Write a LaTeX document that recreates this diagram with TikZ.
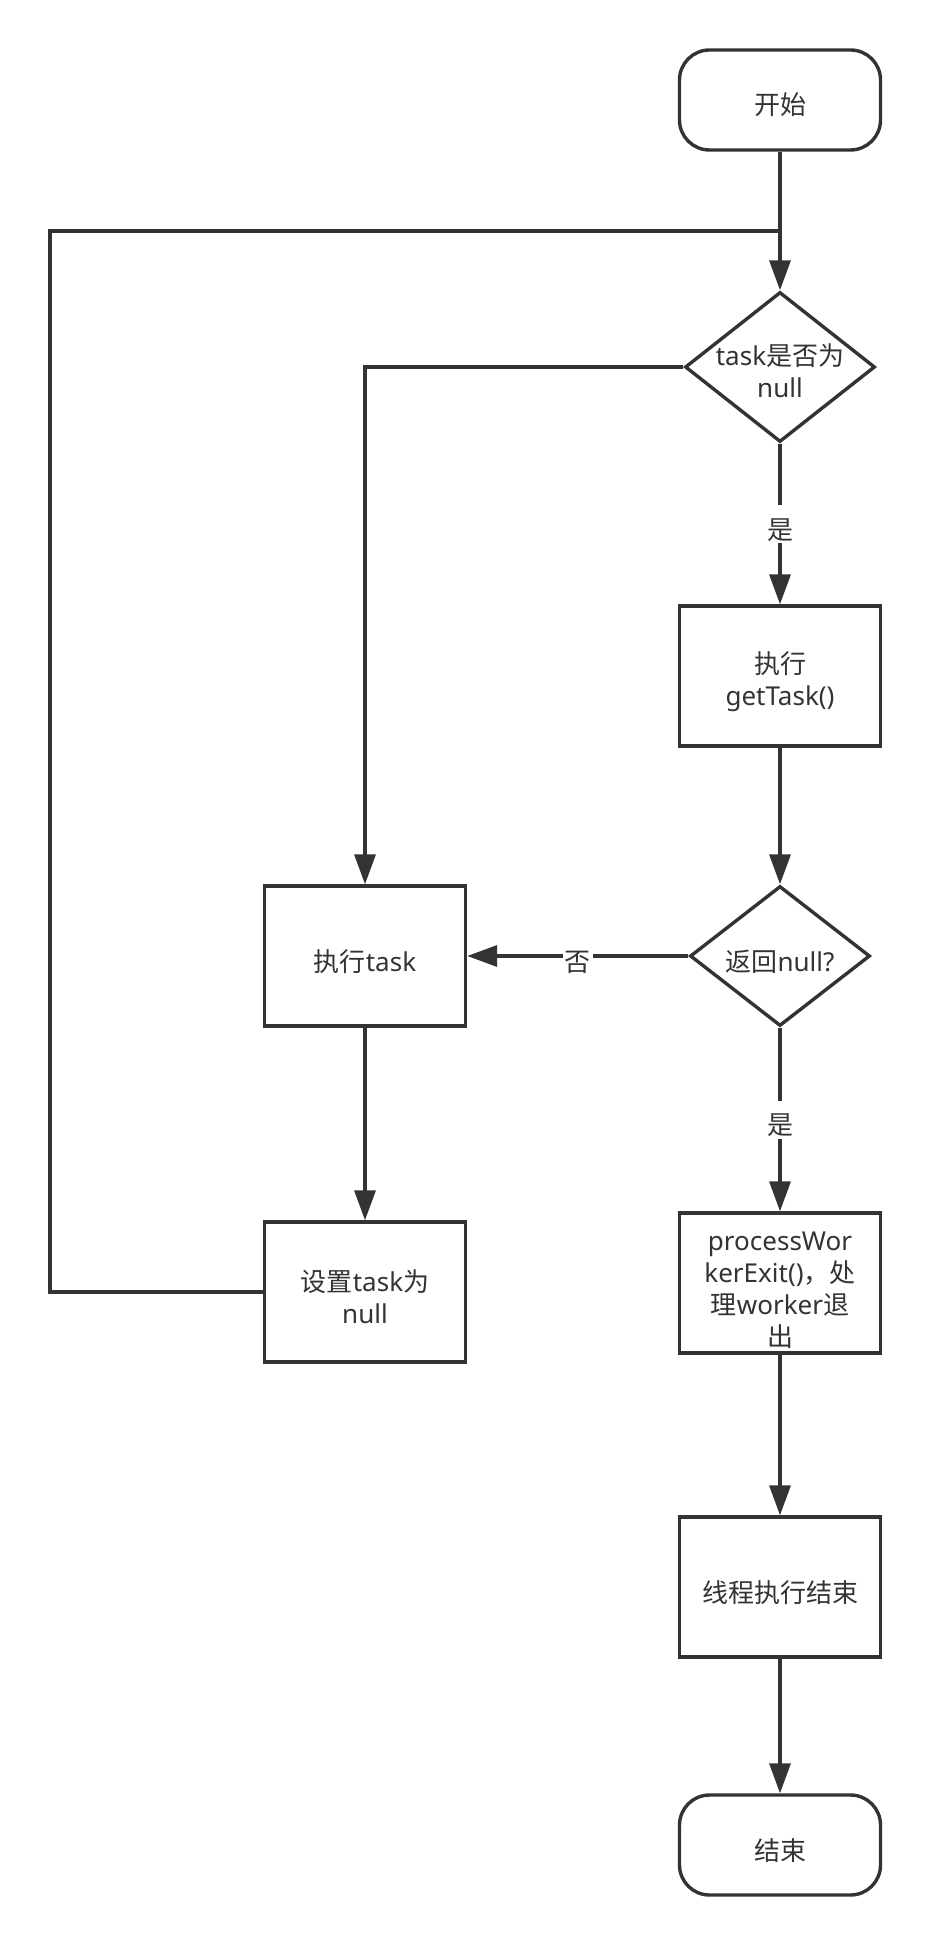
\documentclass[tikz,border=0pt]{standalone}
\usepackage{fontspec}
\setmainfont{Noto Sans}
\newfontfamily\cjk{Noto Sans CJK SC}
\usepackage{tikz}
\usetikzlibrary{arrows.meta,shapes.geometric}
\definecolor{ink}{HTML}{333333}
\newcommand{\textlift}{\rule{0pt}{17pt}}

\begin{document}
\begin{tikzpicture}[x=0.5pt,y=-0.5pt,
	every node/.style={text=ink,font=\fontsize{13pt}{16pt}\selectfont,align=center,inner sep=0pt,
	  execute at begin node={\textlift},execute at end node={\rule[-2pt]{0pt}{2pt}}},
	terminal/.style={draw=ink,line width=1.7pt,rounded corners=15pt,minimum width=100.5pt,minimum height=50pt},
	process/.style={draw=ink,line width=1.7pt,minimum width=100.5pt,minimum height=70pt},
	decision/.style={draw=ink,line width=1.7pt,diamond},
	line/.style={draw=ink,line width=1.7pt},
	flow/.style={line,-{Triangle[length=15pt,width=10.5pt]}},
	tag/.style={fill=white,inner xsep=1pt,inner ysep=0pt}]
	\useasboundingbox (0,0) rectangle (930,1946);

	% right column
	\node[terminal] (start) at (780,100) {\cjk 开始};
	\node[decision,minimum width=95pt,minimum height=75pt,
	  label={center:\textlift task{\cjk 是否为}\\null}] (isnull) at (780,367) {};
	\node[process] (gettask) at (780,676) {\textlift{\cjk 执行}\\getTask()};
	\node[decision,minimum width=90pt,minimum height=70pt,
	  label={center:{\cjk 返回}null?}] (retnull) at (780,956) {};
	\node[process] (exit) at (780,1283) {\textlift processWor\\kerExit(){\cjk ，处}\\{\cjk 理}worker{\cjk 退}\\{\cjk 出}};
	\node[process] (over) at (780,1587) {\cjk 线程执行结束};
	\node[terminal] (stop) at (780,1845) {\cjk 结束};

	% left column
	\node[process] (runtask) at (365,956) {{\cjk 执行}task};
	\node[process] (reset) at (365,1292) {\textlift{\cjk 设置}task{\cjk 为}\\null};
	\coordinate (back) at (50,231);

	\draw[flow] (start) -- (isnull);
	\draw[flow] (isnull) -- node[tag] {\cjk 是} (gettask);
	\draw[flow] (gettask) -- (retnull);
	\draw[flow] (retnull) -- node[tag] {\cjk 是} (exit);
	\draw[flow] (exit) -- (over);
	\draw[flow] (over) -- (stop);
	\draw[flow] (isnull.west) -| (runtask.north);
	\draw[flow] (retnull) -- node[tag] {\cjk 否} (runtask);
	\draw[flow] (runtask) -- (reset);
	\draw[line] (reset.west) -| (back) -- (back -| start.south);
\end{tikzpicture}
\end{document}
